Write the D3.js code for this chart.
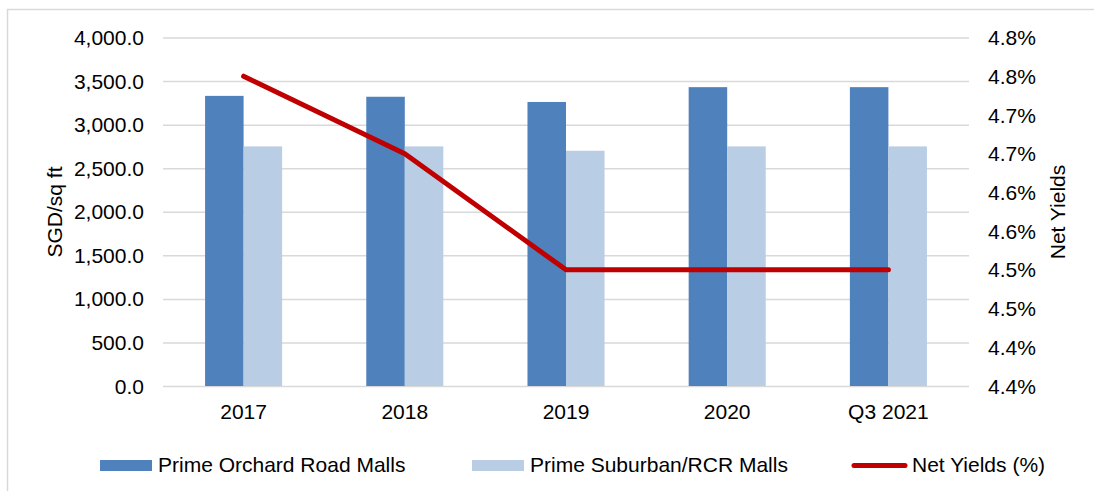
<!DOCTYPE html>
<html lang="en">

<head>
  <meta charset="UTF-8" />
  <script src="https://d3js.org/d3.v7.min.js"></script>
  <style>
    body {
      margin: 0;
      background: white;
    }

    text {
      font-family: "Liberation Sans", Arial, sans-serif;
      font-size: 21px;
      fill: #000;
    }

    .gridlines line {
      stroke: #d9d9d9;
      stroke-width: 1.5px;
    }

    .gridlines .domain {
      stroke: none;
    }
  </style>
</head>

<body>
  <svg id="chart" width="1094" height="491"></svg>

  <script>
    // data
    const categories = ["2017", "2018", "2019", "2020", "Q3 2021"];
    const seriesNames = ["Prime Orchard Road Malls", "Prime Suburban/RCR Malls"];
    const orchardValues = [3330, 3320, 3260, 3430, 3430];
    const suburbanValues = [2750, 2750, 2700, 2750, 2750];
    const netYields = [4.75, 4.65, 4.50, 4.50, 4.50];
    const lineName = "Net Yields (%)";
    const leftTicks = [0, 500, 1000, 1500, 2000, 2500, 3000, 3500, 4000];
    const rightTicks = [4.35, 4.40, 4.45, 4.50, 4.55, 4.60, 4.65, 4.70, 4.75, 4.80];

    const colors = ["#4f81bd", "#b9cde5"];
    const lineColor = "#c00000";

    const svg = d3.select("#chart");
    const width = +svg.attr("width");
    const height = +svg.attr("height");
    const plot = { left: 163, right: 969, top: 37.5, bottom: 386 };

    // outer frame
    svg.append("rect")
      .attr("x", 7.5).attr("y", 9.5)
      .attr("width", width + 20).attr("height", height + 20)
      .attr("fill", "white")
      .attr("stroke", "#d9d9d9")
      .attr("stroke-width", 1.5);

    const xScale = d3.scaleBand()
      .domain(categories)
      .range([plot.left, plot.right]);
    const bw = xScale.bandwidth();
    const groupWidth = bw * 0.478;
    const xInner = d3.scaleBand()
      .domain(seriesNames)
      .range([(bw - groupWidth) / 2, (bw + groupWidth) / 2]);

    const yLeft = d3.scaleLinear().domain([0, 4000]).range([plot.bottom, plot.top]);
    const yRight = d3.scaleLinear().domain([4.35, 4.80]).range([plot.bottom, plot.top]);

    // gridlines
    svg.append("g")
      .attr("class", "gridlines")
      .attr("transform", `translate(${plot.left},0)`)
      .call(d3.axisLeft(yLeft).tickValues(leftTicks)
        .tickSize(-(plot.right - plot.left)).tickFormat(""));

    // left axis labels
    svg.append("g").selectAll("text").data(leftTicks)
      .join("text")
      .attr("x", 144)
      .attr("y", d => yLeft(d))
      .attr("dy", "0.36em")
      .attr("text-anchor", "end")
      .text(d => d3.format(",.1f")(d));

    // right axis labels
    const pct = v => (Math.round(v * 10 + 1e-6) / 10).toFixed(1) + "%";
    svg.append("g").selectAll("text").data(rightTicks)
      .join("text")
      .attr("x", 988)
      .attr("y", d => yRight(d))
      .attr("dy", "0.36em")
      .text(d => pct(d));

    // x labels
    svg.append("g").selectAll("text").data(categories)
      .join("text")
      .attr("x", d => xScale(d) + bw / 2)
      .attr("y", 419)
      .attr("text-anchor", "middle")
      .text(d => d);

    // axis titles
    svg.append("text")
      .attr("transform", `translate(54,212) rotate(-90)`)
      .attr("text-anchor", "middle")
      .attr("dominant-baseline", "central")
      .text("SGD/sq ft");
    svg.append("text")
      .attr("transform", `translate(1057,212) rotate(-90)`)
      .attr("text-anchor", "middle")
      .attr("dominant-baseline", "central")
      .text("Net Yields");

    // bars
    const series = [orchardValues, suburbanValues];
    series.forEach((vals, s) => {
      svg.append("g").selectAll("rect").data(vals)
        .join("rect")
        .attr("x", (d, i) => xScale(categories[i]) + xInner(seriesNames[s]))
        .attr("y", d => yLeft(d))
        .attr("width", xInner.bandwidth())
        .attr("height", d => yLeft(0) - yLeft(d))
        .attr("fill", colors[s]);
    });

    // line
    const line = d3.line()
      .x((d, i) => xScale(categories[i]) + bw / 2)
      .y(d => yRight(d));
    svg.append("path")
      .datum(netYields)
      .attr("d", line)
      .attr("fill", "none")
      .attr("stroke", lineColor)
      .attr("stroke-width", 5)
      .attr("stroke-linecap", "round")
      .attr("stroke-linejoin", "round");

    // legend
    const legend = svg.append("g");
    const legendItems = [
      { name: seriesNames[0], type: "bar", color: colors[0], x: 100 },
      { name: seriesNames[1], type: "bar", color: colors[1], x: 472 },
      { name: lineName, type: "line", color: lineColor, x: 852 }
    ];
    legendItems.forEach(d => {
      if (d.type == "bar") {
        legend.append("rect")
          .attr("x", d.x).attr("y", 460)
          .attr("width", 52).attr("height", 11)
          .attr("fill", d.color);
        legend.append("text")
          .attr("x", d.x + 58).attr("y", 472)
          .text(d.name);
      } else {
        legend.append("line")
          .attr("x1", d.x + 2).attr("x2", d.x + 53)
          .attr("y1", 465.5).attr("y2", 465.5)
          .attr("stroke", d.color)
          .attr("stroke-width", 5)
          .attr("stroke-linecap", "round");
        legend.append("text")
          .attr("x", d.x + 60).attr("y", 472)
          .text(d.name);
      }
    });
  </script>
</body>

</html>
